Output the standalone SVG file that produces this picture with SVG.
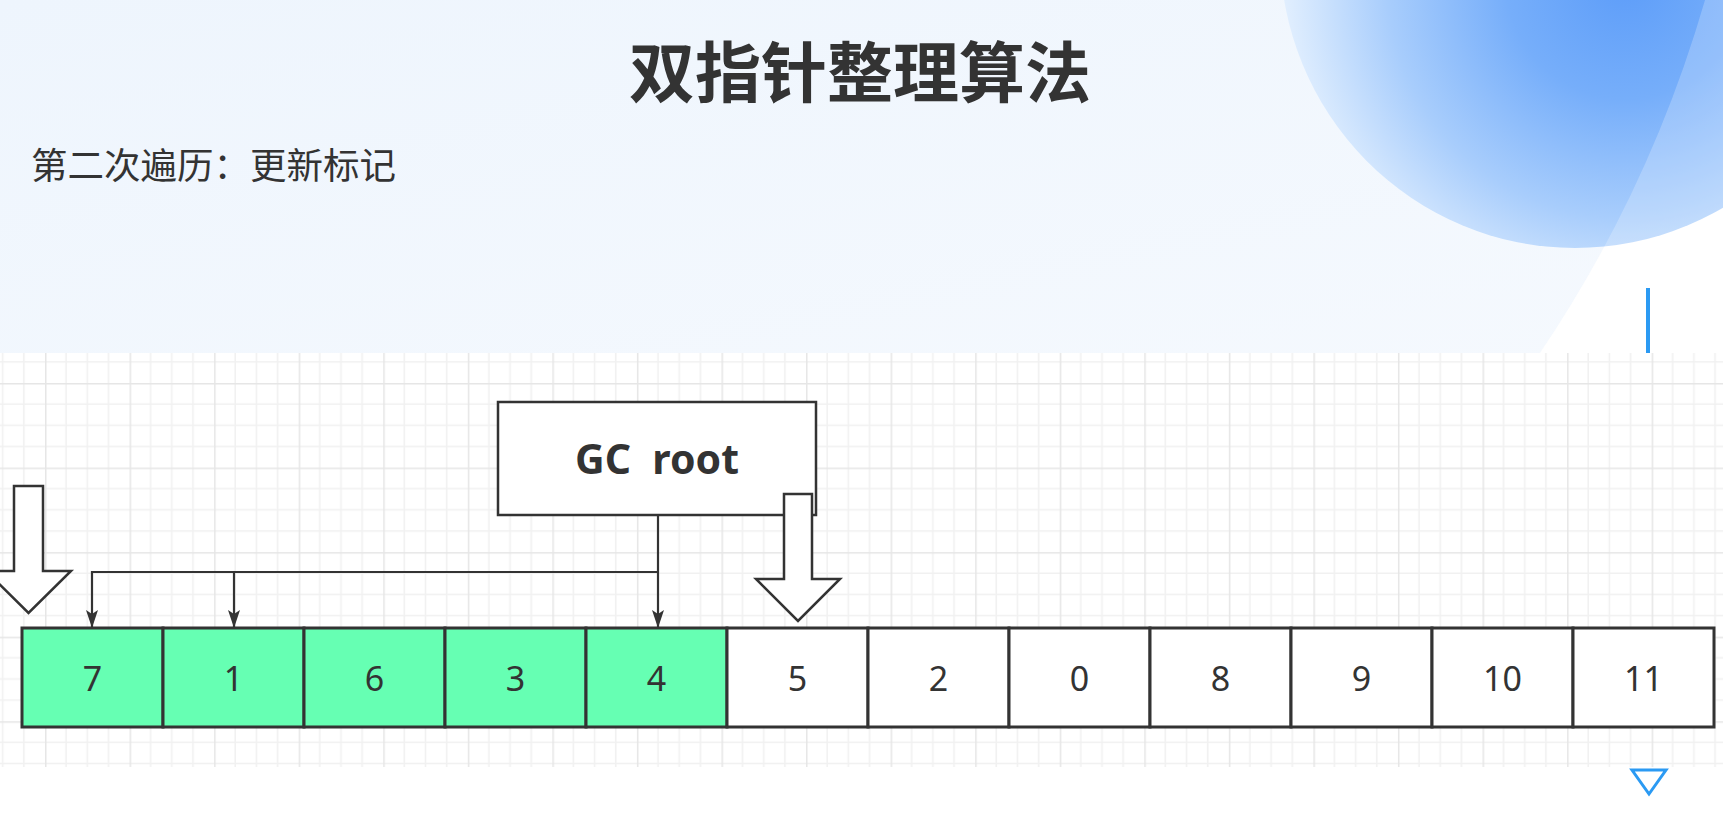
<svg xmlns="http://www.w3.org/2000/svg" width="1723" height="821" viewBox="0 0 1723 821">
<style>
.cell{stroke:#333;stroke-width:3}
.on{fill:#66ffb3}
.off{fill:#ffffff}
.num{font-family:"Noto Sans","Liberation Sans",sans-serif;font-size:34px;fill:#333;text-anchor:middle}
.blk{fill:#ffffff;stroke:#333;stroke-width:2.5;stroke-linejoin:miter}
.edge{fill:none;stroke:#333;stroke-width:2.2}
</style>
<defs>
<linearGradient id="bg" x1="0" y1="0" x2="1" y2="1">
<stop offset="0" stop-color="#eef5fd"/>
<stop offset="1" stop-color="#f5f9fe"/>
</linearGradient>
<radialGradient id="blob" gradientUnits="userSpaceOnUse" cx="1625" cy="-20" r="340">
<stop offset="0" stop-color="#5d9df9"/>
<stop offset="0.35" stop-color="#76aefa"/>
<stop offset="0.7" stop-color="#a8cdfc"/>
<stop offset="1" stop-color="#e0eefe"/>
</radialGradient>
<pattern id="grid" patternUnits="userSpaceOnUse" x="45" y="383" width="84.56" height="84.56">
<rect width="84.56" height="84.56" fill="#ffffff"/>
<path d="M21.14 0V84.56M42.28 0V84.56M63.42 0V84.56M0 21.14H84.56M0 42.28H84.56M0 63.42H84.56" stroke="#f1f1f1" stroke-width="1.5"/>
<path d="M0.75 0V84.56M0 0.75H84.56" stroke="#e6e6e6" stroke-width="1.5"/>
</pattern>
<marker id="arr" viewBox="0 0 18 12" refX="17" refY="6" markerWidth="18" markerHeight="12" markerUnits="userSpaceOnUse" orient="auto">
<path d="M0 0L18 6L0 12L4 6Z" fill="#333"/>
</marker>
</defs>

<!-- header background -->
<rect x="0" y="0" width="1723" height="353" fill="url(#bg)"/>
<path d="M1540 353Q1650 190 1705 0H1723V353Z" fill="#ffffff"/>
<ellipse cx="1575" cy="-50" rx="295" ry="298" fill="url(#blob)"/>
<path d="M1540 353Q1650 190 1705 0H1723V353Z" fill="#ffffff" fill-opacity="0.22"/>
<rect x="1646" y="288" width="4" height="65" fill="#2b9af3"/>

<text x="860" y="97" font-family="'Noto Sans CJK SC',sans-serif" font-size="66" font-weight="bold" fill="#333" text-anchor="middle">双指针整理算法</text>
<text x="31" y="179" font-family="'Noto Sans CJK SC',sans-serif" font-size="36.5" fill="#333">第二次遍历：更新标记</text>

<!-- grid -->
<rect x="0" y="353" width="1723" height="414" fill="url(#grid)"/>
<rect x="0" y="767" width="1723" height="54" fill="#ffffff"/>

<!-- cells -->
<g id="cell-7"><rect class="cell on" x="22" y="628" width="141" height="99"/><text class="num" x="92.5" y="691">7</text></g>
<g id="cell-1"><rect class="cell on" x="163" y="628" width="141" height="99"/><text class="num" x="233.5" y="691">1</text></g>
<g id="cell-6"><rect class="cell on" x="304" y="628" width="141" height="99"/><text class="num" x="374.5" y="691">6</text></g>
<g id="cell-3"><rect class="cell on" x="445" y="628" width="141" height="99"/><text class="num" x="515.5" y="691">3</text></g>
<g id="cell-4"><rect class="cell on" x="586" y="628" width="141" height="99"/><text class="num" x="656.5" y="691">4</text></g>
<g id="cell-5"><rect class="cell off" x="727" y="628" width="141" height="99"/><text class="num" x="797.5" y="691">5</text></g>
<g id="cell-2"><rect class="cell off" x="868" y="628" width="141" height="99"/><text class="num" x="938.5" y="691">2</text></g>
<g id="cell-0"><rect class="cell off" x="1009" y="628" width="141" height="99"/><text class="num" x="1079.5" y="691">0</text></g>
<g id="cell-8"><rect class="cell off" x="1150" y="628" width="141" height="99"/><text class="num" x="1220.5" y="691">8</text></g>
<g id="cell-9"><rect class="cell off" x="1291" y="628" width="141" height="99"/><text class="num" x="1361.5" y="691">9</text></g>
<g id="cell-10"><rect class="cell off" x="1432" y="628" width="141" height="99"/><text class="num" x="1502.5" y="691">10</text></g>
<g id="cell-11"><rect class="cell off" x="1573" y="628" width="141" height="99"/><text class="num" x="1643.5" y="691">11</text></g>

<!-- GC root -->
<g id="gc-root">
<rect x="498" y="402" width="318" height="113" fill="#ffffff" stroke="#333" stroke-width="2.5"/>
<text x="657" y="474" xml:space="preserve" font-family="'Noto Sans','Open Sans',sans-serif" font-size="41" font-weight="bold" fill="#333" text-anchor="middle">GC  root</text>
</g>

<!-- connectors -->
<g id="connectors">
<path class="edge" d="M658 515V627" marker-end="url(#arr)"/>
<path class="edge" d="M658 572H92V627" marker-end="url(#arr)"/>
<path class="edge" d="M234 572V627" marker-end="url(#arr)"/>
</g>

<!-- block arrows -->
<g id="pointer-left">
<path class="blk" d="M14 486H43V571H71L28.5 613L-14 571H14Z"/>
</g>
<g id="pointer-right">
<path class="blk" d="M784 494H812V579H840L798 621L756 579H784Z"/>
</g>

<polygon points="1632,770 1666,770 1649,794" fill="none" stroke="#2b9af3" stroke-width="3"/>
</svg>
